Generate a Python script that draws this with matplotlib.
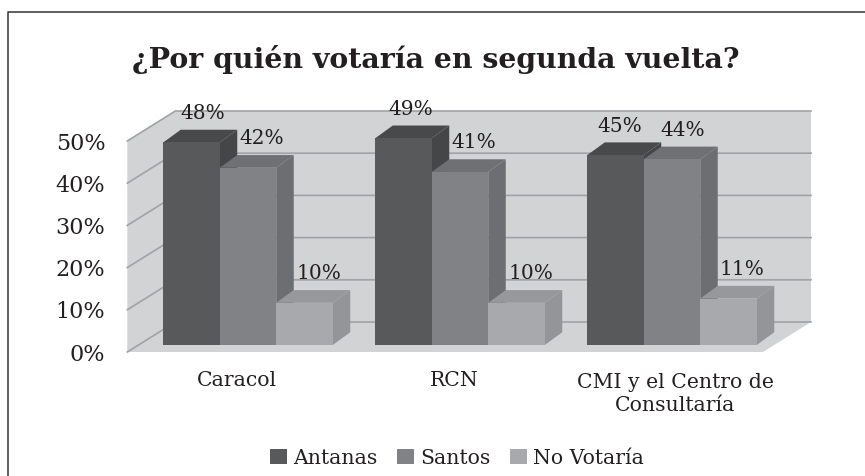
import matplotlib
matplotlib.use('Agg')
import matplotlib.pyplot as plt
from matplotlib.patches import Polygon, Rectangle

categories = ['Caracol', 'RCN', 'CMI y el Centro de\nConsultaría']
series_names = ['Antanas', 'Santos', 'No Votaría']
antanas = [48, 49, 45]
santos = [42, 41, 44]
no_votaria = [10, 10, 11]
y_ticks = [0, 10, 20, 30, 40, 50]

front_colors = ['#58595b', '#808285', '#a7a9ac']
side_colors = ['#454648', '#6d6e71', '#939598']
top_colors = ['#48494b', '#6f7073', '#97989b']
text_color = '#231f20'

W, H = 865, 476
X_UNIT = 212.0      # px per category
Y_UNIT = 4.22       # px per percent
X0 = 248.0          # px of first category centre
Y0 = 352.0          # px of 0% on the front edge
BAR_W = 56.5 / X_UNIT
DX = 17.5 / X_UNIT  # bar depth
DY = 12.7 / Y_UNIT
WALL_DX = 48 / X_UNIT
WALL_DY = 30 / Y_UNIT
BASE = 7 / Y_UNIT   # bars stand a little behind the front edge
WALL_L = (127.3 - X0) / X_UNIT
WALL_R = (763.0 - X0) / X_UNIT

plt.rcParams['font.family'] = ['DejaVu Serif']
fig = plt.figure(figsize=(W / 100, H / 100), dpi=100)
ax = fig.add_axes([0, 0, 1, 1])
ax.set_xlim(-X0 / X_UNIT, (W - X0) / X_UNIT)
ax.set_ylim(-(H - Y0) / Y_UNIT, Y0 / Y_UNIT)
ax.axis('off')

# frame, only top and left are there
fig.add_artist(plt.Line2D([8 / W, 8 / W, 1], [0, 1 - 12 / H, 1 - 12 / H], color='#333333', lw=1.1))

# walls and floor
wall = '#d1d3d4'
ax.add_patch(Polygon([(WALL_L, 0), (WALL_L + WALL_DX, WALL_DY),
                      (WALL_L + WALL_DX, 50 + WALL_DY), (WALL_L, 50)], fc=wall, ec='none'))
ax.add_patch(Polygon([(WALL_L, 0), (WALL_R, 0), (WALL_R + WALL_DX, WALL_DY),
                      (WALL_L + WALL_DX, WALL_DY)], fc=wall, ec='none'))
ax.add_patch(Rectangle((WALL_L + WALL_DX, WALL_DY), WALL_R - WALL_L, 50, fc=wall, ec='none'))

# gridlines
for t in y_ticks:
    ax.plot([WALL_L, WALL_L + WALL_DX, WALL_R + WALL_DX], [t, t + WALL_DY, t + WALL_DY],
            color='#a0a2a5', lw=1.2, solid_joinstyle='miter')

# bars
all_series = [antanas, santos, no_votaria]
for i, vals in enumerate(all_series):
    for g, v in enumerate(vals):
        left = g + (i - 1.5) * BAR_W
        right = left + BAR_W
        top = BASE + v
        ax.add_patch(Polygon([(right, BASE), (right + DX, BASE + DY), (right + DX, top + DY), (right, top)],
                             fc=side_colors[i], ec='none', zorder=3 + i))
        ax.add_patch(Polygon([(left, top), (right, top), (right + DX, top + DY), (left + DX, top + DY)],
                             fc=top_colors[i], ec='none', zorder=3 + i))
        ax.bar(left, v, BAR_W, bottom=BASE, align='edge', color=front_colors[i], zorder=3 + i)

# value labels
label_nudge = [[11, 14, 14.5], [7, 14, 14], [4, 11, 13.5]]
for i, vals in enumerate(all_series):
    for g, v in enumerate(vals):
        cx = g + (i - 1) * BAR_W
        ax.annotate(f'{v}%', (cx, BASE + v), xytext=(label_nudge[g][i] * 0.72, 29 * 0.72),
                    textcoords='offset points', ha='center', va='center',
                    fontsize=14.5, color=text_color, zorder=10)

# axis labels
for t in y_ticks:
    ax.text(WALL_L - 22 / X_UNIT, t - 0.6, f'{t}%', ha='right', va='center', fontsize=16, color=text_color)

cat_nudge = [-11, -6, 3]
cat_y = [381, 381, 394]
for g, c in enumerate(categories):
    ax.text(g + cat_nudge[g] / X_UNIT, -(cat_y[g] - Y0) / Y_UNIT, c, ha='center', va='center',
            fontsize=14.7, color=text_color, linespacing=1.3)

# legend
handles = [Rectangle((0, 0), 1, 1, fc=c, ec='none') for c in front_colors]
fig.legend(handles, series_names, loc='center', bbox_to_anchor=(457 / W, 1 - 458 / H), ncol=3, frameon=False,
           fontsize=14.7, handlelength=0.8, handleheight=0.8, handletextpad=0.3, columnspacing=1.0,
           labelcolor=text_color)

fig.text(436 / W, 1 - 60 / H, '¿Por quién votaría en segunda vuelta?', ha='center', va='center',
         fontsize=20.4, fontweight='bold', color=text_color)

fig.savefig('out.png', dpi=100)
